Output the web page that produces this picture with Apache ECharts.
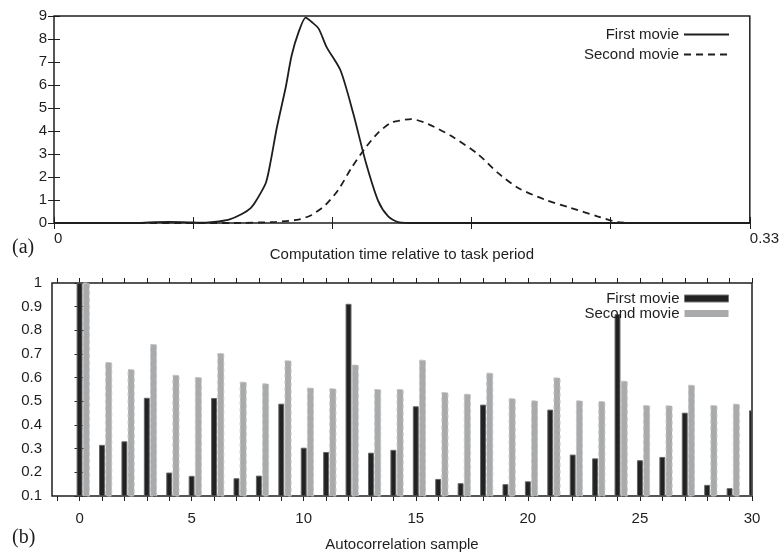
<!DOCTYPE html>
<html>
<head>
<meta charset="utf-8">
<script src="https://cdn.jsdelivr.net/npm/echarts@6/dist/echarts.min.js"></script>
<style>
  html, body { margin: 0; padding: 0; background: #fff; }
  #chart { width: 782px; height: 554px; }
</style>
</head>
<body>
<div id="chart"></div>
<script>
// (a) distribution of computation time, x = fraction of task period
const firstTime = [0, 0.040, 0.0452, 0.0546, 0.0641, 0.0688, 0.0759, 0.0830, 0.0891, 0.0934, 0.0962, 0.1005,
  0.1028, 0.1057, 0.1099, 0.1127, 0.1160, 0.1194, 0.1222, 0.1255, 0.1293, 0.1359, 0.1420, 0.1477,
  0.1538, 0.1585, 0.1632, 0.1727, 0.33];
const firstDensity = [0, 0, 0.03, 0.05, 0.03, 0.01, 0.05, 0.15, 0.39, 0.66, 1.02, 1.75,
  2.7, 4.15, 5.9, 7.28, 8.3, 8.93, 8.74, 8.45, 7.65, 6.63, 4.74, 2.70,
  0.95, 0.29, 0.04, 0, 0];
const secondTime = [0, 0.0844, 0.1052, 0.1160, 0.1222, 0.1288, 0.1349, 0.1411, 0.1477, 0.1538, 0.1599,
  0.1632, 0.1694, 0.1775, 0.1883, 0.2011, 0.2105, 0.2200, 0.2327, 0.2450, 0.2577, 0.2672, 0.2799, 0.33];
const secondDensity = [0, 0, 0.05, 0.15, 0.35, 0.79, 1.45, 2.4, 3.27, 3.93, 4.37,
  4.44, 4.52, 4.30, 3.79, 2.99, 2.18, 1.53, 1.02, 0.66, 0.29, 0.04, 0, 0];

// (b) autocorrelation per lag
const lags = [0, 1, 2, 3, 4, 5, 6, 7, 8, 9, 10, 11, 12, 13, 14, 15, 16, 17, 18, 19, 20,
  21, 22, 23, 24, 25, 26, 27, 28, 29, 30];
const firstAutocorr = [1.0, 0.314, 0.329, 0.513, 0.197, 0.183, 0.512, 0.173, 0.184, 0.488, 0.302,
  0.284, 0.910, 0.281, 0.293, 0.477, 0.170, 0.152, 0.484, 0.148, 0.160,
  0.463, 0.273, 0.257, 0.866, 0.249, 0.263, 0.450, 0.145, 0.131, 0.460];
const secondAutocorr = [1.0, 0.664, 0.634, 0.740, 0.610, 0.601, 0.702, 0.581, 0.574, 0.671, 0.556,
  0.553, 0.653, 0.550, 0.550, 0.674, 0.537, 0.530, 0.619, 0.511, 0.502,
  0.599, 0.502, 0.499, 0.585, 0.482, 0.481, 0.568, 0.482, 0.488];

// tick marks / labels of the lag axis
const lagTicks = [-1].concat(lags);
const lagLabels = [0, 5, 10, 15, 20, 25, 30];

const FONT = '"Liberation Sans", Arial, sans-serif';
const INK = '#1e1e1e';
const BAR_BASE = 0.1;

const chart = echarts.init(document.getElementById('chart'));

const zip = (xs, ys) => xs.map((x, i) => [x, ys[i]]);

function barRenderer(offset, halfWidth, style) {
  return function (params, api) {
    const x = api.value(0) + offset;
    const p0 = api.coord([x - halfWidth, api.value(1)]);
    const p1 = api.coord([x + halfWidth, BAR_BASE]);
    const rect = echarts.graphic.clipRectByRect(
      { x: p0[0], y: p0[1], width: p1[0] - p0[0], height: p1[1] - p0[1] },
      params.coordSys
    );
    if (!rect) return;
    return { type: 'rect', shape: rect, style: style };
  };
}

const tickStyle = { color: INK, width: 1 };
const labelBase = { color: INK, fontSize: 15, fontFamily: FONT };

const option = {
  backgroundColor: '#fff',
  animation: false,
  grid: [
    { left: 54, top: 16, width: 700, height: 207, show: true, borderColor: INK, borderWidth: 1.5, backgroundColor: 'transparent' },
    { left: 52, top: 283, width: 700, height: 213, show: true, borderColor: INK, borderWidth: 1.5, backgroundColor: 'transparent' }
  ],
  xAxis: [
    {
      gridIndex: 0, type: 'value', position: 'bottom', min: 0, max: 0.33, interval: 0.066,
      axisLine: { show: false }, splitLine: { show: false },
      axisTick: { inside: true, length: 6, lineStyle: tickStyle },
      axisLabel: Object.assign({}, labelBase, {
        margin: 8, showMinLabel: true, showMaxLabel: true,
        alignMinLabel: 'left', alignMaxLabel: 'left',
        formatter: (v) => (v === 0 ? '0' : Math.abs(v - 0.33) < 1e-6 ? '0.33' : '')
      }),
      name: 'Computation time relative to task period', nameLocation: 'middle', nameGap: 17,
      nameTextStyle: { color: INK, fontSize: 15, fontFamily: FONT }
    },
    {
      gridIndex: 0, type: 'value', position: 'top', min: 0, max: 0.33, interval: 0.066,
      axisLine: { show: false }, splitLine: { show: false },
      axisTick: { inside: true, length: 6, lineStyle: tickStyle },
      axisLabel: { show: false }
    },
    {
      gridIndex: 1, type: 'value', position: 'bottom', min: -1.23, max: 30,
      axisLine: { show: false }, splitLine: { show: false },
      axisTick: { inside: false, length: 5, lineStyle: tickStyle, customValues: lagTicks },
      axisLabel: Object.assign({}, labelBase, { margin: 15, customValues: lagLabels }),
      name: 'Autocorrelation sample', nameLocation: 'middle', nameGap: 41,
      nameTextStyle: { color: INK, fontSize: 15, fontFamily: FONT }
    },
    {
      gridIndex: 1, type: 'value', position: 'top', min: -1.23, max: 30,
      axisLine: { show: false }, splitLine: { show: false },
      axisTick: { inside: false, length: 5, lineStyle: tickStyle, customValues: lagTicks },
      axisLabel: { show: false }
    }
  ],
  yAxis: [
    {
      gridIndex: 0, type: 'value', position: 'left', min: 0, max: 9, interval: 1,
      axisLine: { show: false }, splitLine: { show: false },
      axisTick: { show: true, inside: true, length: 6, lineStyle: tickStyle },
      axisLabel: Object.assign({}, labelBase, { margin: 7 })
    },
    {
      gridIndex: 0, type: 'value', position: 'right', min: 0, max: 9, interval: 1,
      axisLine: { show: false }, splitLine: { show: false },
      axisTick: { show: true, inside: true, length: 6, lineStyle: tickStyle },
      axisLabel: { show: false }
    },
    {
      gridIndex: 1, type: 'value', position: 'left', min: 0.1, max: 1, interval: 0.1,
      axisLine: { show: false }, splitLine: { show: false },
      axisTick: { show: true, inside: false, length: 5, lineStyle: tickStyle },
      axisLabel: Object.assign({}, labelBase, {
        margin: 10,
        formatter: (v) => (Math.abs(v - 1) < 1e-9 ? '1' : v.toFixed(1))
      })
    },
    {
      gridIndex: 1, type: 'value', position: 'right', min: 0.1, max: 1, interval: 0.1,
      axisLine: { show: false }, splitLine: { show: false },
      axisTick: { show: true, inside: false, length: 5, lineStyle: tickStyle },
      axisLabel: { show: false }
    }
  ],
  legend: [
    {
      data: ['First movie', 'Second movie'],
      orient: 'vertical', right: 47, top: 22, align: 'right',
      itemWidth: 45, itemHeight: 14, itemGap: 5,
      itemStyle: { opacity: 0 },
      textStyle: { color: INK, fontSize: 15, fontFamily: FONT, lineHeight: 14 },
      selectedMode: false
    },
    {
      data: [
        { name: 'First movie (b)', icon: 'rect', itemStyle: { color: '#222', borderColor: '#777', borderWidth: 1 } },
        { name: 'Second movie (b)', icon: 'rect', itemStyle: { color: '#a8aaac', borderWidth: 0 } }
      ],
      orient: 'vertical', right: 48, top: 286, align: 'right',
      itemWidth: 44, itemHeight: 7, itemGap: 0,
      formatter: (name) => name.replace(' (b)', ''),
      textStyle: { color: INK, fontSize: 15, fontFamily: FONT, lineHeight: 14 },
      selectedMode: false
    }
  ],
  graphic: [
    { type: 'text', left: 12, top: 238, style: { text: '(a)', font: '20px "Liberation Serif", serif', fill: INK } },
    { type: 'text', left: 12, top: 528, style: { text: '(b)', font: '20px "Liberation Serif", serif', fill: INK } }
  ],
  series: [
    {
      name: 'First movie', type: 'line', xAxisIndex: 0, yAxisIndex: 0,
      data: zip(firstTime, firstDensity), smooth: 0.25, symbol: 'none',
      lineStyle: { color: INK, width: 1.8 }, itemStyle: { color: INK }
    },
    {
      name: 'Second movie', type: 'line', xAxisIndex: 0, yAxisIndex: 0,
      data: zip(secondTime, secondDensity), smooth: 0.25, symbol: 'none',
      lineStyle: { color: INK, width: 1.8, type: [7, 5] }, itemStyle: { color: INK }
    },
    {
      name: 'First movie (b)', type: 'custom', xAxisIndex: 2, yAxisIndex: 2,
      data: zip(lags, firstAutocorr),
      itemStyle: { color: '#222' },
      renderItem: barRenderer(0, 0.11, { fill: '#222', stroke: '#666', lineWidth: 1 })
    },
    {
      name: 'Second movie (b)', type: 'custom', xAxisIndex: 2, yAxisIndex: 2,
      data: zip(lags.slice(0, secondAutocorr.length), secondAutocorr),
      itemStyle: { color: '#a8aaac' },
      renderItem: barRenderer(0.3, 0.135, { fill: '#a8aaac', stroke: '#c4c5c6', lineWidth: 1, lineDash: [4, 3] })
    }
  ]
};

chart.setOption(option);
</script>
</body>
</html>
